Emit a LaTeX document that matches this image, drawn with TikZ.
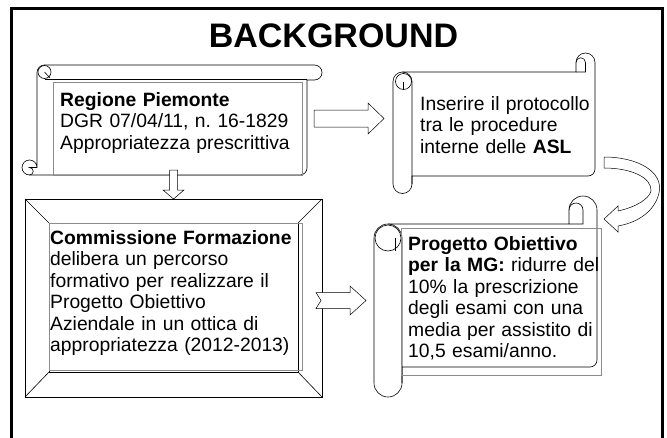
\documentclass[tikz,border=0pt]{standalone}
\usepackage{fontspec}
\setmainfont{Liberation Sans}
\usetikzlibrary{calc}
\frenchspacing
\tikzset{
  scroll/.style={draw, fill=white, line width=0.6pt},
  curl/.style={draw, line width=0.6pt},
  blockarr/.style={draw, fill=white, line width=0.5pt},
  textbox/.style={draw=black!45, line width=0.7pt},
  body/.style={anchor=base west, inner sep=0pt, align=left, text width=#1,
    font=\fontsize{19.3}{21.5}\selectfont},
}
\begin{document}
\begin{tikzpicture}[x=1pt,y=-1pt]
\useasboundingbox (0,0) rectangle (667,437);
\draw[line width=3pt] (11,445) -- (11,8) -- (662,8) -- (662,445);
\node[anchor=base, font=\bfseries\fontsize{34}{40}\selectfont] (title) at (333.5,47) {BACKGROUND};

% Regione Piemonte (horizontal scroll)
\draw[scroll] (37,167.5) -- (37,72.5) arc[start angle=180,end angle=270,radius=7.5] -- (314.5,65)
  arc[start angle=-90,end angle=90,radius=7.5] -- (307,80) -- (307,168)
  arc[start angle=0,end angle=90,radius=7] -- (29.5,175) arc[start angle=90,end angle=360,radius=7.5] -- cycle;
\draw[curl] (307,79) -- (44.5,79);
\draw[curl] (44.5,72) circle[radius=6.5];
\draw[curl] (44.5,72) -- (50,78);
\draw[curl] (37,167.5) -- (29.5,167.5) arc[start angle=-90,end angle=90,radius=3.75];
\draw[textbox] (53,82) rectangle (302,175);
\node[body=250pt] (reg) at (60,106) {\textbf{Regione Piemonte}\\DGR 07/04/11, n. 16-1829\\Appropriatezza prescrittiva};

% Inserire il protocollo (vertical scroll)
\draw[scroll] (412,176) -- (588,176) arc[start angle=90,end angle=0,radius=7] -- (595,62.5)
  arc[start angle=0,end angle=-180,radius=9.5] -- (576,72) -- (402.5,72)
  arc[start angle=-90,end angle=-180,radius=9.5] -- (393,184) arc[start angle=180,end angle=0,radius=9.5] -- cycle;
\draw[curl] (412,184) -- (412,81.5) arc[start angle=0,end angle=-90,radius=9.5];
\draw[curl] (403.5,81.5) circle[radius=8];
\draw[curl] (403.5,81.5) -- (403.5,89.5);
\draw[curl] (576,72) -- (585.5,72) -- (585.5,62.5) arc[start angle=0,end angle=-180,radius=4.75];
\node[body=180pt] (ins) at (420,110) {Inserire il protocollo\\tra le procedure\\interne delle \textbf{ASL}};

% Commissione Formazione (frame)
\draw[scroll] (25,199) rectangle (322,397);
\draw[curl] (49,223) rectangle (298,372);
\draw[curl] (25,199) -- (49,223) (322,199) -- (298,223) (25,397) -- (49,372) (322,397) -- (298,372);
\draw[textbox] (49,223) rectangle (302,370);
\node[body=260pt] (comm) at (50,244) {\textbf{Commissione Formazione}\\delibera un percorso\\formativo per realizzare il\\Progetto Obiettivo\\Aziendale in un ottica di\\appropriatezza (2012-2013)};

% Progetto Obiettivo (vertical scroll)
\draw[scroll] (402,367) -- (590,367) arc[start angle=90,end angle=0,radius=7] -- (597,210)
  arc[start angle=0,end angle=-180,radius=14] -- (569,224) -- (388,224)
  arc[start angle=-90,end angle=-180,radius=14] -- (374,383) arc[start angle=180,end angle=0,radius=14] -- cycle;
\draw[curl] (402,383) -- (402,238) arc[start angle=0,end angle=-90,radius=14];
\draw[curl] (388,238) circle[radius=13];
\draw[curl] (395,238) -- (395,251);
\draw[curl] (569,224) -- (583,224) -- (583,210) arc[start angle=0,end angle=-180,radius=7];
\draw[textbox] (401,228) rectangle (601,375);
\node[body=195pt] (prog) at (408,250) {\textbf{Progetto Obiettivo}\\\textbf{per la MG:} ridurre del\\10\% la prescrizione\\degli esami con una\\media per assistito di\\10,5 esami/anno.};

% block arrows
\coordinate (a1) at (314,118.5);
\draw[blockarr] (a1) ++(0,-8.5) -- ++(54,0) -- ++(0,-7) -- ++(16,15.5) -- ++(-16,15.5) -- ++(0,-7) -- ++(-54,0) -- cycle;
\coordinate (a2) at (173.5,170);
\draw[blockarr] (a2) ++(-4,0) -- ++(8,0) -- ++(0,20) -- ++(6.5,0) -- ++(-10.5,9) -- ++(-10.5,-9) -- ++(6.5,0) -- cycle;
\coordinate (a3) at (316,300.5);
\draw[blockarr] (a3) ++(0,-8) -- ++(34,0) -- ++(0,-6.5) -- ++(16,14.5) -- ++(-16,14.5) -- ++(0,-6.5) -- ++(-34,0) -- ++(5,-8) -- cycle;
\coordinate (a4) at (604,157);
\draw[blockarr] (a4) .. controls (638,157) and (664,172) .. (659,193) .. controls (655,210) and (640,222) .. (618,226)
  -- (618,232) -- (604,219) -- (618,206) -- (618,211) .. controls (636,207) and (649,199) .. (651,191)
  .. controls (652,178) and (632,168) .. (604,168) -- cycle;
\end{tikzpicture}
\end{document}
